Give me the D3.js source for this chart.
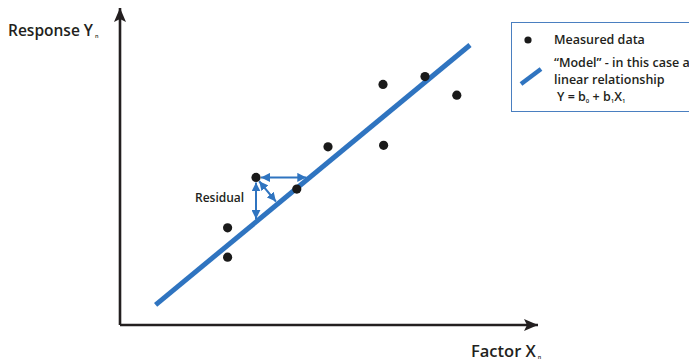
<!DOCTYPE html>
<html><head><meta charset="utf-8">
<script src="https://cdn.jsdelivr.net/npm/d3@7"></script>
<style>
html,body{margin:0;padding:0;background:#fff;overflow:hidden;}
svg{display:block;font-family:"Open Sans",sans-serif;}
</style></head>
<body>
<script>
// Measured data (factor X, response Y) in arbitrary units
const factorX   = [26.9, 26.9, 34.0, 44.2, 52.0, 65.75, 65.9, 76.25, 84.2];
const responseY = [22.6, 32.4, 49.2, 45.3, 59.4, 80.2, 59.9, 82.8, 76.6];
// Model: Y = b0 + b1*X, drawn between these X values
const modelCoef = [-3.1, 1.102];
const modelRange = [8.9, 87.5];
// Highlighted point for the residual illustration (index in data)
const residualIndex = [2];
const axisMax = [104.5, 105.7];
const legendLabels = ["Measured data", "\u201cModel\u201d - in this case a", "linear relationship"];

const W = 689, H = 361;
const blue = "#2f74c0", ink = "#231f20";
const x = d3.scaleLinear().domain([0, 100]).range([120, 520]);
const y = d3.scaleLinear().domain([0, 100]).range([325, 25]);

const svg = d3.select("body").append("svg").attr("width", W).attr("height", H);
const defs = svg.append("defs");
defs.append("marker").attr("id", "axArrow").attr("viewBox", "0 0 14 12")
  .attr("refX", 14).attr("refY", 6).attr("markerWidth", 14).attr("markerHeight", 12)
  .attr("markerUnits", "userSpaceOnUse").attr("orient", "auto")
  .append("path").attr("d", "M0,0 L14,6 L0,12 L3,6 Z").attr("fill", ink);
defs.append("marker").attr("id", "bArrow").attr("viewBox", "0 0 10 10")
  .attr("refX", 10).attr("refY", 5).attr("markerWidth", 9).attr("markerHeight", 9)
  .attr("markerUnits", "userSpaceOnUse").attr("orient", "auto-start-reverse")
  .append("path").attr("d", "M0,0 L10,5 L0,10 Z").attr("fill", blue);

// Axes
const line = d3.line();
svg.append("path").attr("d", line([[x(0), y(0)], [x(0), y(axisMax[1])]]))
  .attr("stroke", ink).attr("stroke-width", 2.6).attr("fill", "none").attr("marker-end", "url(#axArrow)");
svg.append("path").attr("d", line([[x(0), y(0)], [x(axisMax[0]), y(0)]]))
  .attr("stroke", ink).attr("stroke-width", 2.6).attr("fill", "none").attr("marker-end", "url(#axArrow)");

// Model line
const f = v => modelCoef[0] + modelCoef[1] * v;
svg.append("path").attr("d", line(modelRange.map(v => [x(v), y(f(v))])))
  .attr("stroke", blue).attr("stroke-width", 5).attr("fill", "none");

// Residual arrows
const ri = residualIndex[0];
const px = x(factorX[ri]), py = y(responseY[ri]);
function shorten(p0, p1, a, b) {
  const dx = p1[0]-p0[0], dy = p1[1]-p0[1], L = Math.hypot(dx, dy);
  return [[p0[0]+dx/L*a, p0[1]+dy/L*a], [p1[0]-dx/L*b, p1[1]-dy/L*b]];
}
const vEnd = [px, y(f(factorX[ri]))];
const hEnd = [x((responseY[ri]-modelCoef[0])/modelCoef[1]), py];
const A = [x(modelRange[0]), y(f(modelRange[0]))], B = [x(modelRange[1]), y(f(modelRange[1]))];
const dl = Math.hypot(B[0]-A[0], B[1]-A[1]);
const ux = (B[0]-A[0])/dl, uy = (B[1]-A[1])/dl;
const t = (px-A[0])*ux + (py-A[1])*uy;
const pEnd = [A[0]+t*ux, A[1]+t*uy];
[[vEnd, 3], [hEnd, 3.5], [pEnd, 3]].forEach(([e, s]) => {
  svg.append("path").attr("d", line(shorten([px, py], e, 5, s)))
    .attr("stroke", blue).attr("stroke-width", 2).attr("fill", "none")
    .attr("marker-start", "url(#bArrow)").attr("marker-end", "url(#bArrow)");
});

// Points
svg.selectAll("circle.pt").data(factorX).join("circle").attr("class", "pt")
  .attr("cx", (d) => x(d)).attr("cy", (d, i) => y(responseY[i])).attr("r", 4.6).attr("fill", "#1a1a1a");

// Labels
svg.append("text").attr("x", 195).attr("y", 201.5).attr("font-size", 12).attr("font-weight", 600)
  .attr("fill", ink).text("Residual");
const yl = svg.append("text").attr("x", 8).attr("y", 36).attr("font-size", 15.5).attr("font-weight", 600).attr("fill", ink);
yl.append("tspan").text("Response Y");
yl.append("tspan").attr("font-size", 5.5).attr("dx", 2).attr("dy", 2).text("n");
const xl = svg.append("text").attr("x", 471).attr("y", 357).attr("font-size", 16.5).attr("font-weight", 600).attr("fill", ink);
xl.append("tspan").text("Factor X");
xl.append("tspan").attr("font-size", 5.5).attr("dx", 2).attr("dy", 2).text("n");

// Legend
const lg = svg.append("g");
lg.append("rect").attr("x", 511.5).attr("y", 22.5).attr("width", 200).attr("height", 89)
  .attr("fill", "#fff").attr("stroke", "#4a7fc0").attr("stroke-width", 1);
lg.append("circle").attr("cx", 528).attr("cy", 40).attr("r", 3.6).attr("fill", "#1a1a1a");
lg.append("path").attr("d", line([[521, 84], [541, 69]])).attr("stroke", blue).attr("stroke-width", 4.5);
const ls = 12.5;
lg.append("text").attr("x", 554).attr("y", 44).attr("font-size", ls).attr("font-weight", 600).attr("fill", ink).text(legendLabels[0]);
lg.append("text").attr("x", 554).attr("y", 67).attr("font-size", ls).attr("font-weight", 600).attr("fill", ink).text(legendLabels[1]);
lg.append("text").attr("x", 554).attr("y", 84).attr("font-size", ls).attr("font-weight", 600).attr("fill", ink).text(legendLabels[2]);
const eq = lg.append("text").attr("x", 557).attr("y", 101).attr("font-size", ls).attr("font-weight", 600).attr("fill", ink);
eq.append("tspan").text("Y = b");
eq.append("tspan").attr("font-size", 6).attr("dy", 2).text("0");
eq.append("tspan").attr("dy", -2).text(" + b");
eq.append("tspan").attr("font-size", 6).attr("dy", 2).text("1");
eq.append("tspan").attr("dy", -2).text("X");
eq.append("tspan").attr("font-size", 6).attr("dy", 2).text("1");
</script>
</body></html>
